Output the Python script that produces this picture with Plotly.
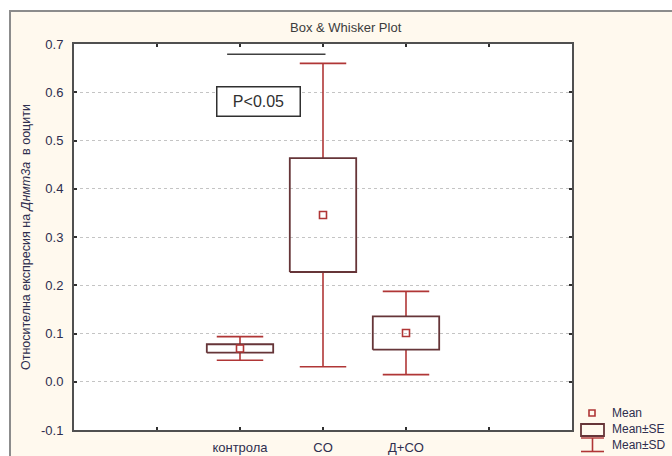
import plotly.graph_objects as go

# Group summaries: box = Mean±SE, whiskers = Mean±SD
categories = ["контрола", "CO", "Д+CO"]
means = [0.069, 0.3455, 0.101]
se = [0.0087, 0.118, 0.0345]
sd = [0.0245, 0.3144, 0.0863]

y_ticks = [-0.1, 0.0, 0.1, 0.2, 0.3, 0.4, 0.5, 0.6, 0.7]
sig_label = "P<0.05"

W, H = 672, 456
FONT = "Arial, Liberation Sans, sans-serif"
TXT = "#2e2e4e"
BOX_COL = "#663538"
WHISK_COL = "#b03636"

# x positions: categories sit at 2, 3, 4 on a 0..6 axis
xpos = [i + 2 for i in range(len(categories))]
half_box = 0.4
half_cap = 0.28


def px(x):
    return x / W


def py(y):
    return 1 - y / H


# Build rectangles and whiskers from the summary values
bx, by = [], []
wx, wy = [], []
for x, m, s, d in zip(xpos, means, se, sd):
    lo, hi = m - s, m + s
    bx += [x - half_box, x + half_box, x + half_box, x - half_box, x - half_box, None]
    by += [lo, lo, hi, hi, lo, None]
    # upper whisker + cap
    wx += [x, x, None, x - half_cap, x + half_cap, None]
    wy += [hi, m + d, None, m + d, m + d, None]
    # lower whisker + cap
    wx += [x, x, None, x - half_cap, x + half_cap, None]
    wy += [lo, m - d, None, m - d, m - d, None]

fig = go.Figure()
fig.add_trace(go.Scatter(x=wx, y=wy, mode="lines",
                         line=dict(color=WHISK_COL, width=1.6),
                         hoverinfo="skip", showlegend=False))
fig.add_trace(go.Scatter(x=bx, y=by, mode="lines",
                         line=dict(color=BOX_COL, width=1.8),
                         hoverinfo="skip", showlegend=False))
fig.add_trace(go.Scatter(x=xpos, y=means, mode="markers",
                         marker=dict(symbol="square-open", size=7,
                                     color=WHISK_COL, line=dict(width=1.6)),
                         showlegend=False))

shapes = []
# outer beige frame
shapes.append(dict(type="rect", xref="paper", yref="paper",
                   x0=px(10), x1=px(700), y0=py(480), y1=py(11),
                   fillcolor="#FFF9EE", line=dict(color="#8c8c8c", width=2),
                   layer="below"))
# white plot area
shapes.append(dict(type="rect", xref="paper", yref="paper",
                   x0=px(74), x1=px(572), y0=py(430), y1=py(44),
                   fillcolor="white", line=dict(width=0), layer="below"))
# significance bar between контрола and CO
shapes.append(dict(type="line", xref="x", yref="y",
                   x0=1.845, x1=3.03, y0=0.679, y1=0.679,
                   line=dict(color="#404040", width=1.5)))

# legend glyphs
shapes.append(dict(type="rect", xref="paper", yref="paper",
                   x0=px(589), x1=px(595), y0=py(416), y1=py(410),
                   line=dict(color=WHISK_COL, width=1.6)))
shapes.append(dict(type="rect", xref="paper", yref="paper",
                   x0=px(581), x1=px(604), y0=py(436), y1=py(424),
                   line=dict(color=BOX_COL, width=1.8)))
shapes.append(dict(type="line", xref="paper", yref="paper",
                   x0=px(581), x1=px(604), y0=py(438), y1=py(438),
                   line=dict(color=WHISK_COL, width=1.4)))
shapes.append(dict(type="line", xref="paper", yref="paper",
                   x0=px(592.5), x1=px(592.5), y0=py(438), y1=py(451.5),
                   line=dict(color=WHISK_COL, width=1.6)))
shapes.append(dict(type="line", xref="paper", yref="paper",
                   x0=px(581), x1=px(604), y0=py(451.5), y1=py(451.5),
                   line=dict(color=WHISK_COL, width=1.6)))

annotations = [
    dict(text="Box & Whisker Plot", xref="paper", yref="paper",
         x=px(346), y=py(27), showarrow=False, yanchor="middle",
         font=dict(family=FONT, size=13, color="#3c3c3c")),
    dict(text="Относителна експресия на <i>Днмт3а</i>  в ооцити",
         xref="paper", yref="paper", x=px(26), y=py(237), textangle=-90,
         showarrow=False, xanchor="center", yanchor="middle",
         font=dict(family=FONT, size=12.5, color=TXT)),
    dict(text=sig_label, xref="x", yref="y", x=2.226, y=0.58,
         showarrow=False, width=80, height=26, borderpad=1,
         xanchor="center", yanchor="middle",
         bordercolor="#303030", borderwidth=1.5, bgcolor="white",
         font=dict(family=FONT, size=16, color="#303030")),
]
for label, yy in [("Mean", 413), ("Mean±SE", 429), ("Mean±SD", 445)]:
    annotations.append(dict(text=label, xref="paper", yref="paper",
                            x=px(610), y=py(yy), xanchor="left",
                            yanchor="middle", showarrow=False,
                            font=dict(family=FONT, size=12, color=TXT)))

fig.update_layout(
    width=W, height=H, autosize=False,
    margin=dict(l=0, r=0, t=0, b=0, pad=0),
    paper_bgcolor="white", plot_bgcolor="white",
    shapes=shapes, annotations=annotations,
    xaxis=dict(domain=[px(74), px(572)], range=[0, 6], automargin=False,
               tickvals=[1] + xpos + [5],
               ticktext=[""] + categories + [""],
               ticks="inside", ticklen=3, tickcolor="#303030", tickwidth=1.5,
               showline=True, linecolor="#505050", linewidth=2, mirror="ticks",
               showgrid=False, zeroline=False, ticklabelstandoff=4,
               tickfont=dict(family=FONT, size=13, color=TXT)),
    yaxis=dict(domain=[1 - 430 / H, 1 - 44 / H], range=[-0.1, 0.7],
               automargin=False,
               tickvals=y_ticks, ticktext=["%.1f" % v for v in y_ticks],
               ticks="inside", ticklen=3, tickcolor="#303030", tickwidth=1.5,
               showline=True, linecolor="#505050", linewidth=2, mirror="ticks",
               showgrid=True, gridcolor="#c4c4c4", griddash="dot", gridwidth=1,
               zeroline=False, ticklabelstandoff=6,
               tickfont=dict(family=FONT, size=13, color=TXT)),
)

fig.write_html("out.html")
